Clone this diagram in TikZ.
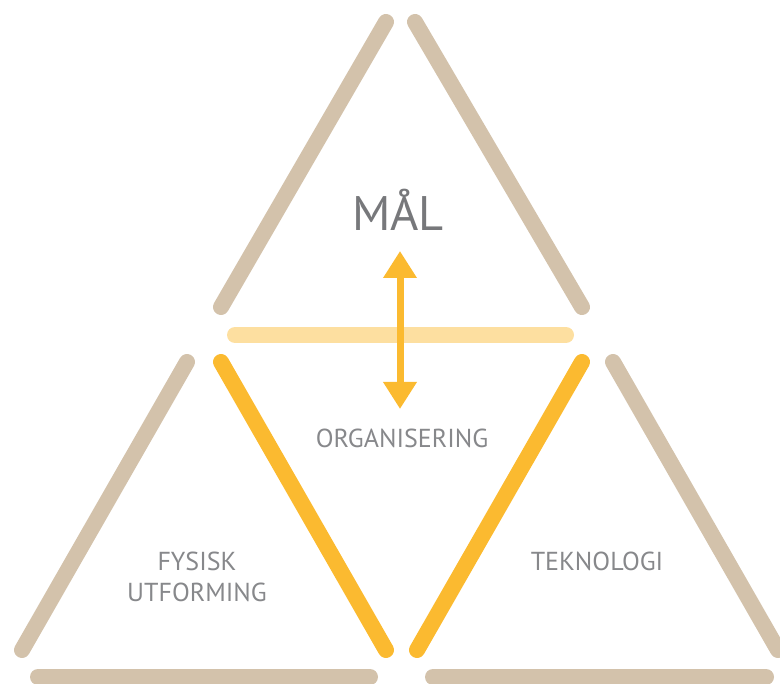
\documentclass[tikz,border=0pt]{standalone}
\usepackage{fontspec}
\setmainfont{PT Sans}
\usetikzlibrary{arrows.meta}
\definecolor{sand}{HTML}{D3C2AB}
\definecolor{amber}{HTML}{FBBA30}
\definecolor{paleamber}{HTML}{FDDFA0}
\definecolor{labelgray}{HTML}{87888B}
\definecolor{titlegray}{HTML}{77787B}
\tikzset{
  bar/.style={line width=16pt, line cap=round},
  label/.style={text=labelgray, font=\fontsize{26}{30}\selectfont, anchor=base, inner sep=0pt},
  title/.style={text=titlegray, font=\fontsize{48.5}{52}\selectfont, anchor=base, inner sep=0pt},
}
\begin{document}
\begin{tikzpicture}[x=1pt,y=-1pt]
  \useasboundingbox (0,0) rectangle (780,684);
  % top triangle: goal
  \draw[bar, sand] (386,22) -- (221,307);
  \draw[bar, sand] (415,22) -- (582,307);
  \draw[bar, paleamber] (235,335) -- (566,335);
  % lower left triangle: physical design
  \draw[bar, sand] (187,362) -- (22,650);
  \draw[bar, amber] (221,362) -- (386,650);
  \draw[bar, sand] (38,677) -- (370,677);
  % lower right triangle: technology
  \draw[bar, amber] (582,362) -- (417,650);
  \draw[bar, sand] (613,362) -- (778,650);
  \draw[bar, sand] (433,677) -- (766,677);
  % two-way arrow between goal and organisation
  \coordinate (up) at (400,251);
  \coordinate (down) at (400,409);
  \draw[amber, line width=7pt, {Triangle[length=27pt,width=32pt]}-{Triangle[length=27pt,width=32pt]}] (up) -- (down);
  % labels
  \node[title] (goal) at (398,231) {MÅL};
  \node[label] (org) at (402,448) {ORGANISERING};
  \node[label] (phys1) at (197,571) {FYSISK};
  \node[label] (phys2) at (197,602) {UTFORMING};
  \node[label] (tech) at (597,571) {TEKNOLOGI};
\end{tikzpicture}
\end{document}
